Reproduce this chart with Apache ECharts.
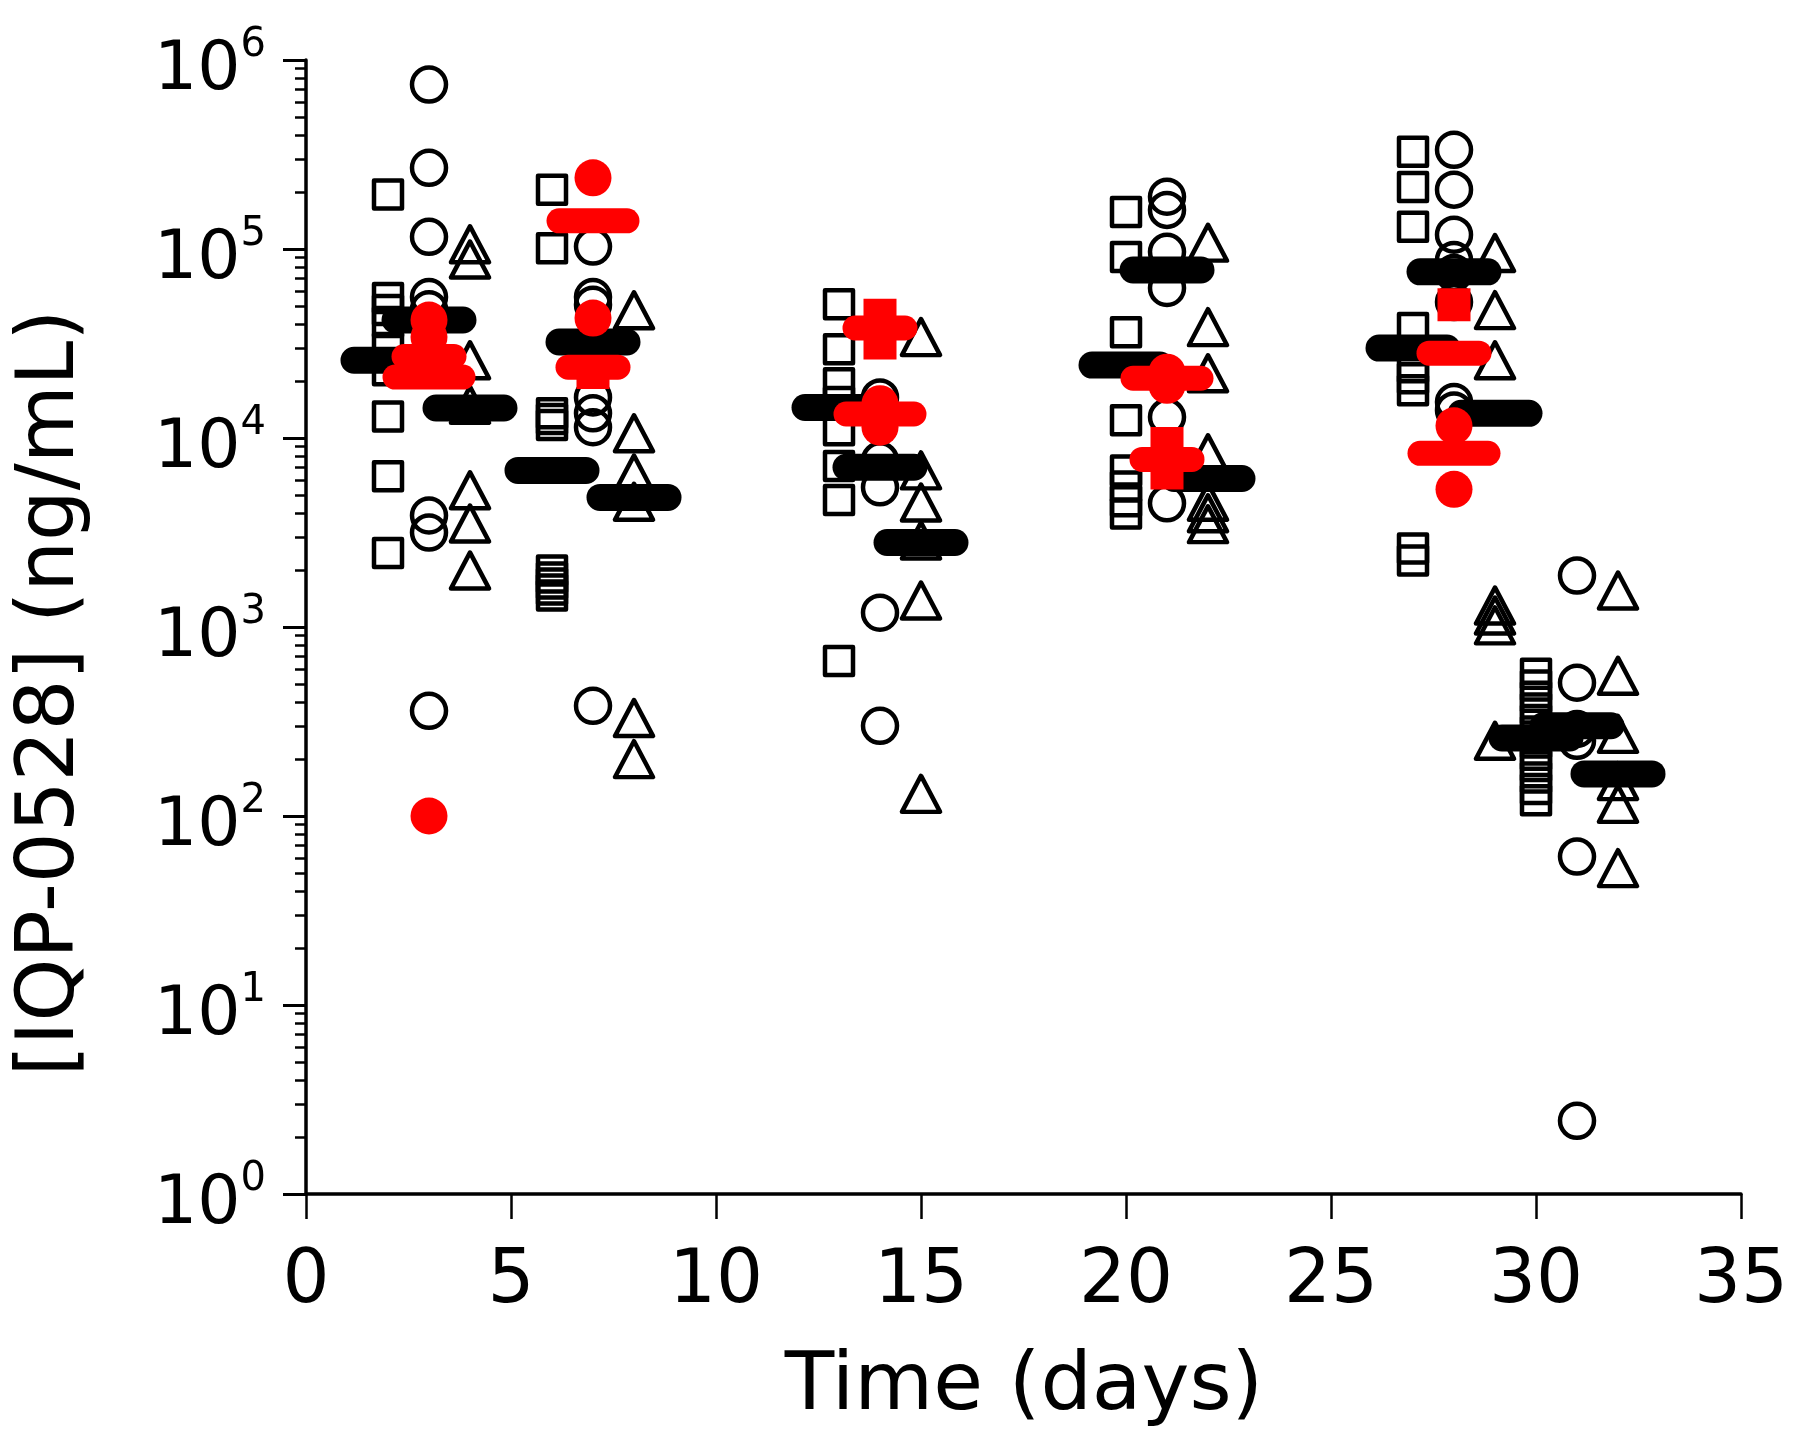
<!DOCTYPE html>
<html><head><meta charset="utf-8">
<script src="https://cdn.jsdelivr.net/npm/echarts@6/dist/echarts.min.js"></script>
<style>html,body{margin:0;padding:0;background:#fff}#c{width:1800px;height:1441px}</style>
</head><body><div id="c"></div>
<script>
const FONT = 'DejaVu Sans';

// ---- open squares (x = day - 1) ----
const sqDay2  = [194000, 55000, 47500, 41100, 29900, 22800, 13000, 6270, 2460];
const sqDay6  = [206000, 101000, 13500, 12600, 11700, 1990, 1830, 1700, 1580, 1470];
const sqDay13 = [51000, 29500, 19500, 15500, 11000, 7100, 4700, 660];
const sqDay20 = [157000, 90800, 36300, 12400, 6740, 5530, 4630, 3990];
const sqDay27 = [327000, 213000, 131000, 38200, 23700, 20700, 17900, 2600, 2250];
const sqDay30 = [565, 490, 427, 370, 322, 280, 245, 211, 184, 160, 139, 121];

// ---- open circles (x = day) ----
const ciDay3  = [741000, 269000, 116000, 55700, 48000, 3890, 3160, 360];
const ciDay7  = [103000, 55700, 50700, 16400, 13500, 11400, 383];
const ciDay14 = [16400, 7620, 5480, 1190, 300];
const ciDay21 = [189000, 161000, 96600, 62200, 12900, 4510];
const ciDay28 = [335000, 206000, 119000, 87500, 74700, 52400, 15500, 14000];
const ciDay31 = [1870, 507, 289, 250, 61, 2.44];

// ---- open triangles (x = day + 1) ----
const trDay4  = [106000, 88000, 25800, 15000, 5290, 3530, 1990];
const trDay8  = [47400, 10600, 6490, 4600, 330, 200];
const trDay15 = [34200, 6740, 4560, 2870, 1380, 131];
const trDay22 = [108000, 38600, 22000, 8300, 4600, 4000, 3500];
const trDay29 = [95300, 47500, 25800, 1300, 1150, 1020, 250];
const trDay32 = [1560, 552, 272, 153, 116, 53];

// ---- black mean bars ----
const barX      = [2, 3, 4, 6, 7, 8, 13, 14, 15, 20, 21, 22, 27, 28, 29, 30, 31, 32];
const barValues = [25800, 42100, 14400, 6740, 32200, 4850, 14500, 7000, 2800, 24300, 77500, 6100, 29900, 75700, 13500, 259, 300, 167];

// ---- red markers ----
const redDotX = [3, 3, 3, 7, 7, 14, 14, 21, 21, 28, 28];
const redDotV = [42100, 34200, 100, 238000, 43100, 15200, 11400, 22300, 19000, 11600, 5350];
const redSqX = [7, 14, 14, 21, 21, 28];
const redSqV = [22200, 44600, 31800, 9340, 6520, 50700];
const redWideX = [3, 7, 14, 21, 28];
const redWideV = [21000, 141000, 13400, 20700, 8300];
const redNarrowX = [3, 7, 14, 21, 28];
const redNarrowV = [27000, 23700, 38200, 7700, 28100];

// ---- axis ticks ----
const xTicks = [0, 5, 10, 15, 20, 25, 30, 35];
const yMajor = [1, 10, 100, 1000, 10000, 100000, 1000000];
const yMinor = [];
for (let e = 0; e < 6; e++) for (let m = 2; m <= 9; m++) yMinor.push(m * Math.pow(10, e));

function col(x, arr) { return arr.map(v => [x, v]); }
function pairs(xs, vs) { return xs.map((x, i) => [x, vs[i]]); }

const squares = [].concat(col(2, sqDay2), col(6, sqDay6), col(13, sqDay13), col(20, sqDay20), col(27, sqDay27), col(30, sqDay30));
const circles = [].concat(col(3, ciDay3), col(7, ciDay7), col(14, ciDay14), col(21, ciDay21), col(28, ciDay28), col(31, ciDay31));
const triangles = [].concat(col(4, trDay4), col(8, trDay8), col(15, trDay15), col(22, trDay22), col(29, trDay29), col(32, trDay32));

const BAR_PATH = 'path://M13.5,0H81.5A13.5,13.5,0,0,1,81.5,27H13.5A13.5,13.5,0,0,1,13.5,0Z';
const RED_WIDE = 'path://M12.5,0H80.5A12.5,12.5,0,0,1,80.5,25H12.5A12.5,12.5,0,0,1,12.5,0Z';
const RED_NARROW = 'path://M12.5,0H62.5A12.5,12.5,0,0,1,62.5,25H12.5A12.5,12.5,0,0,1,12.5,0Z';

const openStyle = { color: 'rgba(0,0,0,0)', borderColor: '#000', borderWidth: 4.5, borderJoin: 'round', opacity: 1 };
const redStyle = { color: '#ff0000', opacity: 1 };

const chart = echarts.init(document.getElementById('c'), null, { renderer: 'canvas' });
chart.setOption({
  animation: false,
  backgroundColor: '#fff',
  grid: { left: 306, top: 60, width: 1435, height: 1134 },
  xAxis: {
    type: 'value', min: 0, max: 35, interval: 5,
    axisLine: { lineStyle: { color: '#000', width: 3.5 } },
    axisTick: { length: 25, lineStyle: { color: '#000', width: 2.5 } },
    axisLabel: { fontSize: 74, fontFamily: FONT, color: '#000', margin: 52,
      customValues: xTicks },
    splitLine: { show: false }
  },
  yAxis: [{
    type: 'log', logBase: 10, min: 1, max: 1000000,
    axisLine: { show: true, lineStyle: { color: '#000', width: 3.5 } },
    axisTick: { show: true, length: 23, lineStyle: { color: '#000', width: 3 }, customValues: yMajor },
    axisLabel: {
      margin: 40, customValues: yMajor,
      formatter: v => '{a|10}{b|' + Math.round(Math.log10(v)) + '}',
      rich: {
        a: { fontSize: 68, fontFamily: FONT, color: '#000', lineHeight: 68, padding: [22, 0, 0, 0] },
        b: { fontSize: 40, fontFamily: FONT, color: '#000', lineHeight: 40, verticalAlign: 'top' }
      }
    },
    splitLine: { show: false }
  }, {
    type: 'log', logBase: 10, min: 1, max: 1000000, position: 'left', offset: 0,
    axisLine: { show: false },
    axisTick: { show: true, length: 11, lineStyle: { color: '#000', width: 2.5 }, customValues: yMinor },
    axisLabel: { show: false },
    splitLine: { show: false }
  }],
  graphic: [
    { type: 'text', x: 52, y: 693, rotation: Math.PI / 2,
      style: { text: '[IQP-0528] (ng/mL)', font: '80px "DejaVu Sans"', fill: '#000', textAlign: 'center', textVerticalAlign: 'middle' } },
    { type: 'text', x: 1024, y: 1388,
      style: { text: 'Time (days)', font: '81px "DejaVu Sans"', fill: '#000', textAlign: 'center', textVerticalAlign: 'middle' } }
  ],
  series: [
    { type: 'scatter', name: 'squares', z: 2, symbol: 'rect', symbolSize: 28, itemStyle: openStyle, data: squares, silent: true },
    { type: 'scatter', name: 'circles', z: 2, symbol: 'circle', symbolSize: 34, itemStyle: openStyle, data: circles, silent: true },
    { type: 'scatter', name: 'triangles', z: 2, symbol: 'triangle', symbolSize: [38, 36], itemStyle: openStyle, data: triangles, silent: true },
    { type: 'scatter', name: 'means', z: 3, symbol: BAR_PATH, symbolSize: [95, 27], symbolKeepAspect: false,
      itemStyle: { color: '#000', opacity: 1 }, data: pairs(barX, barValues), silent: true },
    { type: 'scatter', name: 'redDots', z: 4, symbol: 'circle', symbolSize: 37, itemStyle: redStyle, data: pairs(redDotX, redDotV), silent: true },
    { type: 'scatter', name: 'redSquares', z: 4, symbol: 'rect', symbolSize: 33, itemStyle: redStyle, data: pairs(redSqX, redSqV), silent: true },
    { type: 'scatter', name: 'redWide', z: 4, symbol: RED_WIDE, symbolSize: [93, 25], itemStyle: redStyle, data: pairs(redWideX, redWideV), silent: true },
    { type: 'scatter', name: 'redNarrow', z: 4, symbol: RED_NARROW, symbolSize: [75, 25], itemStyle: redStyle, data: pairs(redNarrowX, redNarrowV), silent: true }
  ]
});
</script></body></html>
